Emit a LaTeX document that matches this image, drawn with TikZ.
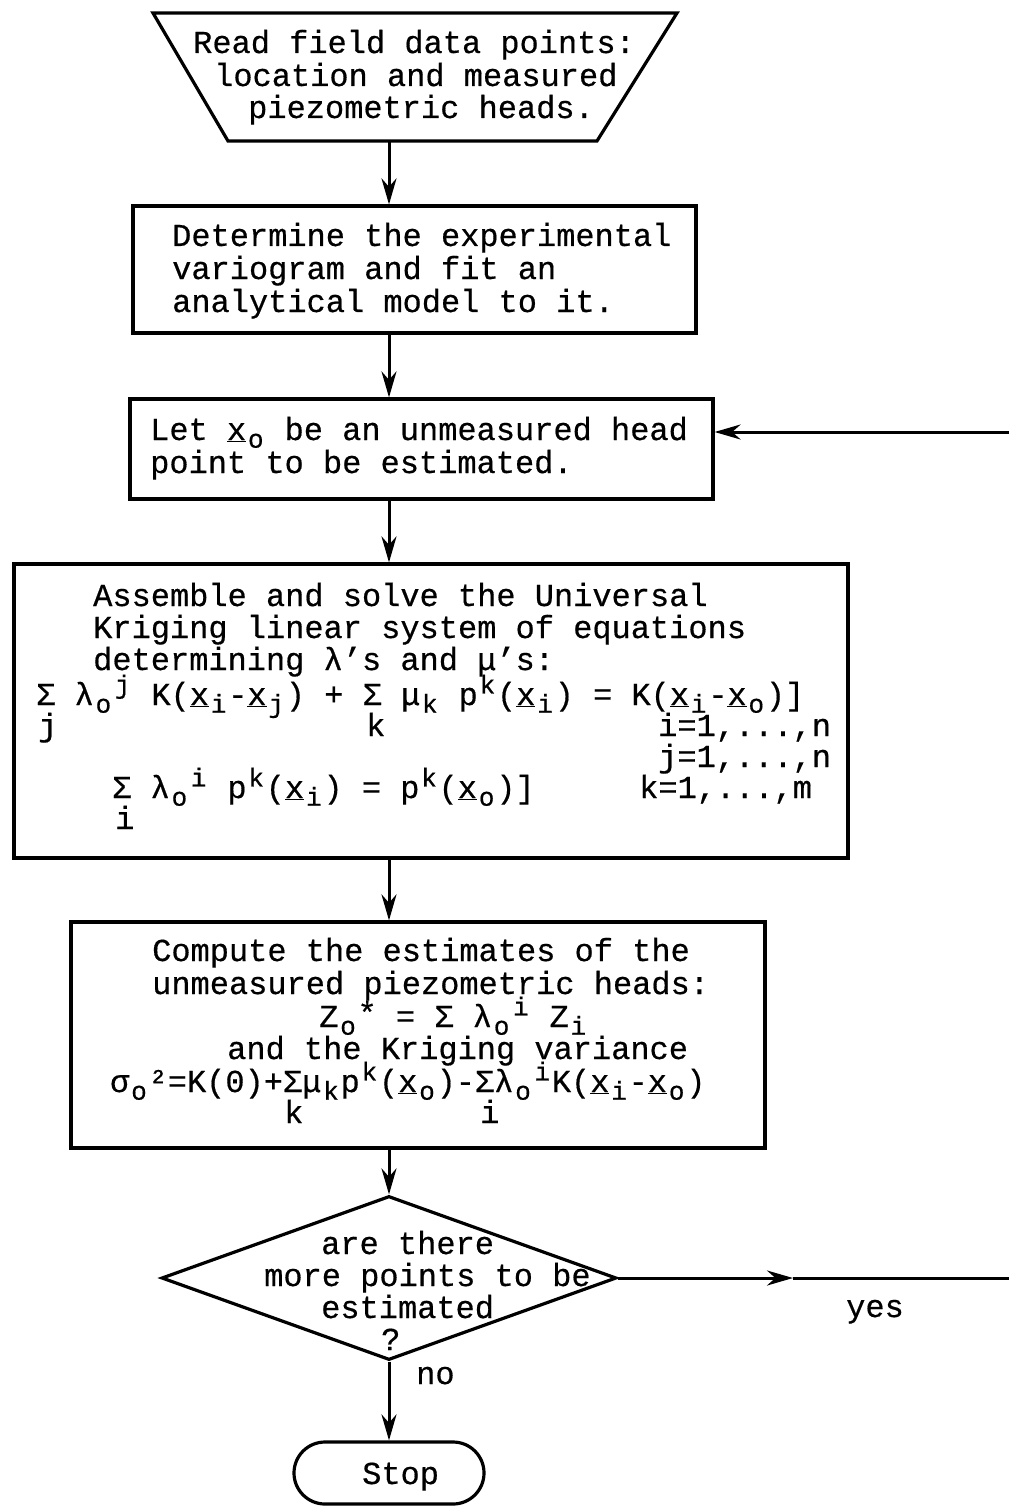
\documentclass[tikz,border=0pt]{standalone}
\usepackage{fontspec}
\newfontfamily\tw[FakeBold=0.5]{Liberation Mono}
\usetikzlibrary{shapes.geometric,shapes.misc,arrows.meta}

% typewriter-style indices: each one fills a full character cell
\newcommand\dn[1]{\makebox[0.6em]{\raisebox{-0.24em}{\fontsize{26}{26}\selectfont #1}}}
\newcommand\up[1]{\makebox[0.6em]{\raisebox{0.36em}{\fontsize{26}{26}\selectfont #1}}}
\newcommand\vx{\underline{x}}

\tikzset{
  frame/.style={draw, line width=3.2pt, inner sep=0pt},
  txt/.style={inner sep=0pt, anchor=base west, font=\tw\fontsize{32}{33}\selectfont},
  flow/.style={line width=3pt, -{Stealth[length=26pt,width=15pt]}},
  wire/.style={line width=3pt},
}

\begin{document}
\begin{tikzpicture}[x=1pt,y=-1pt]
\useasboundingbox (0,0) rectangle (1009,1506);

% input trapezium
\draw[line width=3.2pt, line join=miter] (153,13) -- (677,13) -- (597,141) -- (228,141) -- cycle;
\coordinate (trapbot) at (389,141);
\coordinate (col) at (389,0);
\node[txt] (t1) at (193,53) {Read field data points:};
\node[txt] (t2) at (214,86) {location and measured};
\node[txt] (t3) at (248,118) {piezometric heads.};

% variogram box
\node[frame, minimum width=563pt, minimum height=127pt] (b2) at (414.5,269.5) {};
\node[txt] (v1) at (172,246) {Determine the experimental};
\node[txt] (v2) at (172,279) {variogram and fit an};
\node[txt] (v3) at (172,312) {analytical model to it.};

% choice of the point
\node[frame, minimum width=583pt, minimum height=100pt] (b3) at (421.5,449) {};
\node[txt] (p1) at (150,440) {Let \vx\dn{o} be an unmeasured head};
\node[txt] (p2) at (150,473) {point to be estimated.};

% kriging system
\node[frame, minimum width=834pt, minimum height=294pt] (b4) at (431,711) {};
\node[txt] (k1) at (93,606) {Assemble and solve the Universal};
\node[txt] (k2) at (93,638) {Kriging linear system of equations};
\node[txt] (k3) at (93,670) {determining λ’s and μ’s:};
\node[txt] (k4) at (36,705) {Σ λ\dn{o}\up{j} K(\vx\dn{i}-\vx\dn{j}) + Σ μ\dn{k} p\up{k}(\vx\dn{i}) = K(\vx\dn{i}-\vx\dn{o})]};
\node[txt] (k5) at (38,736) {j};
\node[txt] (k6) at (366,736) {k};
\node[txt] (k7) at (658,736) {i=1,...,n};
\node[txt] (k8) at (658,767) {j=1,...,n};
\node[txt] (k9) at (112,798) {Σ λ\dn{o}\up{i} p\up{k}(\vx\dn{i}) = p\up{k}(\vx\dn{o})]};
\node[txt] (k10) at (639,798) {k=1,...,m};
\node[txt] (k11) at (115,829) {i};

% estimates and variance
\node[frame, minimum width=694pt, minimum height=226pt] (b5) at (418,1035) {};
\node[txt] (e1) at (152,961) {Compute the estimates of the};
\node[txt] (e2) at (152,994) {unmeasured piezometric heads:};
\node[txt] (e3) at (319,1027) {Z\dn{o}\makebox[0.6em]{\raisebox{0.1em}{*}} = Σ λ\dn{o}\up{i} Z\dn{i}};
\node[txt] (e4) at (227,1059) {and the Kriging variance};
\node[txt] (e5) at (110,1092) {σ\dn{o}²=K(0)+Σμ\dn{k}p\up{k}(\vx\dn{o})-Σλ\dn{o}\up{i}K(\vx\dn{i}-\vx\dn{o})};
\node[txt] (e6) at (284,1123) {k};
\node[txt] (e7) at (480,1123) {i};

% decision
\node[frame, diamond, minimum width=455pt, minimum height=164pt] (dia) at (389,1278) {};
\node[txt] (d1) at (321,1254) {are there};
\node[txt] (d2) at (264,1286) {more points to be};
\node[txt] (d3) at (321,1318) {estimated};
\node[txt] (d4) at (381,1350) {?};
\node[txt] (yes) at (846,1317) {yes};
\node[txt] (no) at (416,1384) {no};

% terminal
\node[frame, rounded rectangle, minimum width=190pt, minimum height=62pt] (stop) at (389,1473) {};
\node[txt] (s1) at (362,1484) {Stop};

% main flow
\draw[flow] (trapbot) -- (b2.north -| col);
\draw[flow] (b2.south -| col) -- (b3.north -| col);
\draw[flow] (b3.south -| col) -- (b4.north -| col);
\draw[flow] (b4.south -| col) -- (b5.north -| col);
\draw[flow] (b5.south -| col) -- (dia.north);
\draw[flow] (dia.south) -- (stop.north);

% loop back for the next point
\coordinate (yesmid) at (793,1278);
\coordinate (rim) at (1009,1278);
\coordinate (rim2) at (1009,432);
\draw[flow] (dia.east) -- (yesmid);
\draw[wire] (yesmid) -- (rim);
\draw[flow] (rim2) -- (b3.east |- rim2);
\end{tikzpicture}
\end{document}
